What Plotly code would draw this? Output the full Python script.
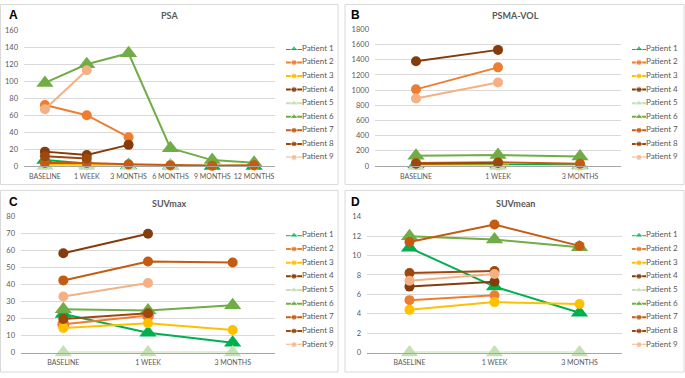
import plotly.graph_objects as go

W, H = 685, 378

# ---------------- data ----------------
patients = [f"Patient {i}" for i in range(1, 10)]

cats_psa = ["BASELINE", "1 WEEK", "3 MONTHS", "6 MONTHS", "9 MONTHS", "12 MONTHS"]
cats_img = ["BASELINE", "1 WEEK", "3 MONTHS"]

psa = [
    [7, 3, 1, 0.5, 0, 0],            # Patient 1
    [72, 60, 34, None, None, None],  # Patient 2
    [1.5, 1, 0.8, 0.5, 0.3, 0.5],    # Patient 3
    [17, 13, 25, None, None, None],  # Patient 4
    [0, 0, 0, 0, None, None],        # Patient 5
    [98, 120, 133, 21, 7, 4],        # Patient 6
    [3.5, 3.5, 2, 1, 0.5, 1],        # Patient 7
    [11.5, 9, None, None, None, None],  # Patient 8
    [67, 113, None, None, None, None],  # Patient 9
]

psma_vol = [
    [25, 20, 12],
    [1010, 1300, None],
    [10, 8, 6],
    [1380, 1530, None],
    [0, 0, 0],
    [135, 145, 125],
    [40, 50, 30],
    [30, 40, None],
    [890, 1100, None],
]

suvmax = [
    [22.7, 11.6, 5.8],
    [16.6, 21.8, None],
    [14.5, 17.3, 13.3],
    [58.5, 70, None],
    [0, 0, 0],
    [25.5, 24.8, 27.8],
    [42.5, 53.7, 53.1],
    [19.8, 23.1, None],
    [33, 41, None],
]

suvmean = [
    [10.8, 6.8, 4.1],
    [5.4, 5.9, None],
    [4.4, 5.2, 5.0],
    [6.8, 7.3, None],
    [0, 0, 0],
    [12.0, 11.65, 10.85],
    [11.4, 13.2, 11.0],
    [8.2, 8.4, None],
    [7.4, 8.1, None],
]

titles = ["PSA", "PSMA-VOL", "SUVmax", "SUVmean"]
letters = ["A", "B", "C", "D"]
y_ranges = [(0, 160, 20), (0, 1800, 200), (0, 80, 10), (0, 14, 2)]

# ---------------- style ----------------
colors = ["#00B050", "#ED7D31", "#FFC000", "#843C0C", "#C5E0B4",
          "#70AD47", "#C55A11", "#9E480E", "#F4B183"]
symbols = ["triangle-up", "circle", "circle", "circle", "triangle-up",
           "triangle-up", "circle", "circle", "circle"]
FONT = "Lato"
TXT = "#595959"
GRID = "#D9D9D9"


def px_x(px):
    return px / W


def px_y(py):
    return 1 - py / H


# panel geometry in pixels: plot area (x0, x1, ytop, ybottom), legend (lx0, lx1, ly0, dy), frame
panels = [
    dict(plot=(24, 275, 27, 166), leg=(286, 302, 46, 13.9), frame=(0.5, 338, 0.5, 185),
         title=(169, 12), letter=(13.5, 11)),
    dict(plot=(375, 621, 26, 166), leg=(632, 646, 46, 13.9), frame=(345, 684, 0.5, 185),
         title=(515, 12), letter=(355.5, 11)),
    dict(plot=(21, 275, 218, 357), leg=(286, 302, 237, 14), frame=(0.5, 338, 191, 377),
         title=(169, 204), letter=(13.5, 202.5)),
    dict(plot=(367, 622, 218, 357), leg=(632, 646, 237, 14), frame=(345, 684, 191, 377),
         title=(515, 204), letter=(355.5, 202.5)),
]

datasets = [(cats_psa, psa), (cats_img, psma_vol), (cats_img, suvmax), (cats_img, suvmean)]

fig = go.Figure()
layout = dict(
    width=W, height=H, margin=dict(l=0, r=0, t=0, b=0),
    paper_bgcolor="white", plot_bgcolor="white",
    showlegend=False, font=dict(family=FONT, color=TXT, size=8),
)
annotations = []
shapes = []

for p, (panel, (cats, values)) in enumerate(zip(panels, datasets)):
    n = p + 1
    xa = "x" if n == 1 else f"x{n}"
    ya = "y" if n == 1 else f"y{n}"
    xkey = "xaxis" if n == 1 else f"xaxis{n}"
    ykey = "yaxis" if n == 1 else f"yaxis{n}"
    x0, x1, yt, yb = panel["plot"]
    lo, hi, dt = y_ranges[p]

    layout[xkey] = dict(
        domain=[px_x(x0), px_x(x1)], anchor=ya, type="category",
        categoryorder="array", categoryarray=cats,
        range=[-0.5, len(cats) - 0.5], showgrid=False, zeroline=False,
        showline=True, linecolor="#A6A6A6", linewidth=1.3, ticks="",
        tickangle=0,
        tickfont=dict(family=FONT, size=7, color=TXT), ticklabelstandoff=3,
        fixedrange=True,
    )
    layout[ykey] = dict(
        domain=[px_y(yb), px_y(yt)], anchor=xa, range=[lo, hi], dtick=dt,
        tick0=0, showgrid=True, gridcolor=GRID, gridwidth=1, zeroline=False,
        showline=False, ticks="", tickfont=dict(family=FONT, size=7.5, color=TXT),
        ticklabelstandoff=5, fixedrange=True,
    )

    for i in range(9):
        if symbols[i] == "triangle-up":
            msize = 15
        else:
            msize = 12 if (p == 2 and i == 1) else 10
        fig.add_trace(go.Scatter(
            x=cats, y=values[i], xaxis=xa, yaxis=ya, name=patients[i],
            mode="lines+markers", cliponaxis=False,
            line=dict(color=colors[i], width=2),
            marker=dict(symbol=symbols[i], size=msize, color=colors[i]),
            showlegend=False, hoverinfo="x+y+name",
        ))

    # custom legend drawn on a hidden helper axis
    lx0, lx1, ly0, dy = panel["leg"]
    ln = n + 4
    lxa, lya = f"x{ln}", f"y{ln}"
    layout[f"xaxis{ln}"] = dict(domain=[px_x(lx0), px_x(lx1)], anchor=lya, range=[0, 1],
                                visible=False, fixedrange=True)
    layout[f"yaxis{ln}"] = dict(domain=[px_y(ly0 + 8 * dy), px_y(ly0)], anchor=lxa,
                                range=[8, 0], visible=False, fixedrange=True)
    for i in range(9):
        fig.add_trace(go.Scatter(
            x=[0, 0.5, 1], y=[i, i, i], xaxis=lxa, yaxis=lya,
            mode="lines+markers+text", cliponaxis=False,
            line=dict(color=colors[i], width=2),
            marker=dict(symbol=symbols[i], size=[0, 6 if symbols[i] == "circle" else 7, 0],
                        color=colors[i]),
            text=["", "", patients[i]], textposition="middle right",
            textfont=dict(family=FONT, size=8, color=TXT),
            showlegend=False, hoverinfo="skip",
        ))

    # title and panel letter
    tx, ty = panel["title"]
    annotations.append(dict(xref="paper", yref="paper", x=px_x(tx), y=px_y(ty),
                            text=f"<b>{titles[p]}</b>", showarrow=False,
                            xanchor="center", yanchor="middle",
                            font=dict(family=FONT, size=9, color=TXT)))
    lx, lyy = panel["letter"]
    annotations.append(dict(xref="paper", yref="paper", x=px_x(lx), y=px_y(lyy),
                            text=f"<b>{letters[p]}</b>", showarrow=False,
                            xanchor="center", yanchor="middle",
                            font=dict(family="Liberation Sans", size=12, color="black")))

    fx0, fx1, fy0, fy1 = panel["frame"]
    shapes.append(dict(type="rect", xref="paper", yref="paper",
                       x0=px_x(fx0), x1=px_x(fx1), y0=px_y(fy1), y1=px_y(fy0),
                       line=dict(color="#D9D9D9", width=1), layer="below"))

layout["annotations"] = annotations
layout["shapes"] = shapes
fig.update_layout(**layout)

fig.write_html(
    "out.html",
    config={"displayModeBar": False},
    post_script="document.body.style.margin='0px';document.body.style.overflow='hidden';",
)
